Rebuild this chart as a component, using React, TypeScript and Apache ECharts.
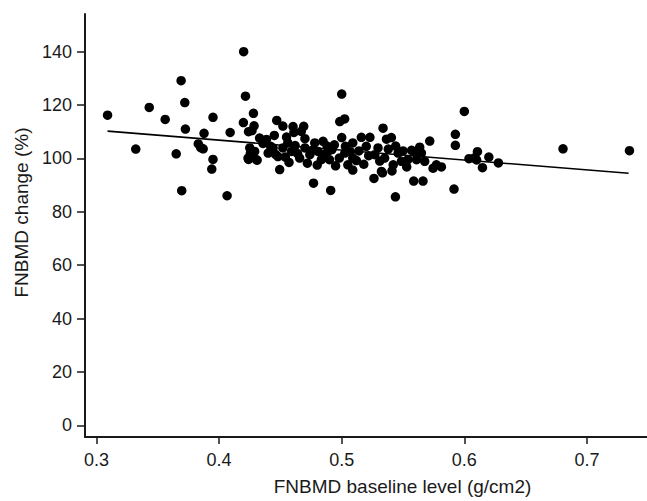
import React, { useEffect, useRef } from "react";
import * as echarts from "echarts";

const xTicks = [0.3, 0.4, 0.5, 0.6, 0.7];
const yTicks = [0, 20, 40, 60, 80, 100, 120, 140];

const baselineLevel = [
  0.309, 0.332, 0.343, 0.356, 0.365, 0.369, 0.3695, 0.372, 0.3725, 0.383, 0.385, 0.387, 0.3877, 0.394, 0.395, 0.395, 0.4065, 0.409,
  0.42, 0.4215, 0.4198, 0.424, 0.4268, 0.428, 0.4285, 0.424, 0.4255, 0.425, 0.4236, 0.4304, 0.429, 0.431, 0.433, 0.437, 0.4386, 0.4358,
  0.44, 0.444, 0.448, 0.4494, 0.447, 0.452, 0.452, 0.456, 0.459, 0.4603, 0.461, 0.4657, 0.467, 0.469, 0.47, 0.474, 0.477, 0.478,
  0.4807, 0.4834, 0.4848, 0.4888, 0.49, 0.491, 0.494, 0.498, 0.4984, 0.5, 0.5024, 0.5, 0.5025, 0.505, 0.509, 0.509, 0.509, 0.516,
  0.523, 0.52, 0.527, 0.5296, 0.5337, 0.5365, 0.5405, 0.535, 0.5324, 0.5263, 0.5332, 0.541, 0.542, 0.546, 0.5487, 0.554, 0.561,
  0.5636, 0.561, 0.5718, 0.5677, 0.5772, 0.5813, 0.5745, 0.5587, 0.5663, 0.5438,
  0.5927, 0.5927, 0.5916, 0.6, 0.6038, 0.608, 0.6107, 0.61, 0.62, 0.6148, 0.6278, 0.6805, 0.7347,
  0.442, 0.446, 0.454, 0.457, 0.462, 0.464, 0.472, 0.476, 0.48, 0.486, 0.492, 0.495, 0.503, 0.507, 0.512, 0.514, 0.518, 0.522,
  0.531, 0.538, 0.544, 0.55, 0.553, 0.557, 0.565, 0.47, 0.455, 0.445, 0.488,
];

const fnbmdChange = [
  116.2, 103.5, 119.1, 114.6, 101.7, 129.1, 87.9, 120.9, 111.0, 105.4, 104.0, 103.6, 109.4, 96.0, 99.6, 115.4, 86.0, 109.7,
  140.0, 123.3, 113.4, 110.0, 110.4, 116.9, 112.2, 99.6, 101.9, 103.9, 100.1, 99.5, 102.6, 99.3, 107.6, 106.4, 107.1, 105.6,
  102.0, 103.9, 100.7, 95.8, 114.2, 112.1, 103.9, 105.8, 102.6, 111.9, 109.7, 100.1, 110.1, 112.0, 103.9, 101.4, 90.7, 105.8,
  102.6, 99.5, 106.4, 102.6, 99.5, 88.0, 105.1, 100.1, 113.8, 124.1, 114.8, 107.8, 102.0, 97.6, 100.1, 105.8, 95.6, 107.9,
  107.9, 104.5, 101.4, 103.9, 111.3, 107.2, 107.8, 100.1, 95.1, 92.5, 94.6, 95.3, 97.6, 102.0, 98.9, 99.5, 99.5,
  104.2, 101.9, 106.5, 98.9, 97.6, 96.8, 96.3, 91.5, 91.5, 85.6,
  109.0, 104.9, 88.5, 117.6, 99.9, 100.1, 102.5, 99.4, 100.5, 96.5, 98.3, 103.6, 102.9,
  104.5, 101.5, 100.5, 98.5, 104.8, 101.8, 98.2, 103.0, 97.5, 101.5, 103.3, 97.2, 104.5, 102.5, 99.2, 102.8, 97.8, 101.0,
  99.0, 103.5, 104.6, 102.8, 96.8, 103.0, 102.0, 107.4, 108.0, 108.6, 104.6,
];

const fitX = [0.309, 0.734];
const fitY = [110.2, 94.4];

const FONT = "'Liberation Sans', Arial, Helvetica, sans-serif";
const INK = "#1a1a1a";

export default function App() {
  const ref = useRef<HTMLDivElement>(null);

  useEffect(() => {
    if (!ref.current) return;
    const chart = echarts.init(ref.current, undefined, { renderer: "svg" });
    const points = baselineLevel.map((x, i) => [x, fnbmdChange[i]]);
    const fit = fitX.map((x, i) => [x, fitY[i]]);
    chart.setOption({
      animation: false,
      backgroundColor: "#ffffff",
      grid: { left: 85, right: 0, top: 14, bottom: 64, containLabel: false },
      xAxis: {
        type: "value",
        min: 0.2906,
        max: 0.749,
        name: "FNBMD baseline level (g/cm2)",
        nameLocation: "middle",
        nameGap: 40,
        nameTextStyle: { fontFamily: FONT, fontSize: 19, color: INK, padding: [0, 0, 0, 73] },
        splitLine: { show: false },
        axisLine: { show: true, onZero: false, lineStyle: { color: INK, width: 2 } },
        axisTick: { show: true, length: 7, customValues: xTicks, lineStyle: { color: INK, width: 1.5 } },
        axisLabel: {
          customValues: xTicks,
          margin: 14,
          fontFamily: FONT,
          fontSize: 18,
          color: INK,
          formatter: (v: number) => v.toFixed(1),
        },
      },
      yAxis: {
        type: "value",
        min: -4.4,
        max: 154.1,
        name: "FNBMD change (%)",
        nameLocation: "middle",
        nameGap: 51,
        nameTextStyle: { fontFamily: FONT, fontSize: 19, color: INK, padding: [0, 0, 0, 26] },
        splitLine: { show: false },
        axisLine: { show: true, onZero: false, lineStyle: { color: INK, width: 2 } },
        axisTick: { show: true, length: 8, customValues: yTicks, lineStyle: { color: INK, width: 1.5 } },
        axisLabel: {
          customValues: yTicks,
          margin: 13,
          fontFamily: FONT,
          fontSize: 18,
          color: INK,
        },
      },
      series: [
        {
          type: "scatter",
          data: points,
          symbol: "circle",
          symbolSize: 9.5,
          itemStyle: { color: "#000000", opacity: 1 },
          silent: true,
        },
        {
          type: "line",
          data: fit,
          symbol: "none",
          lineStyle: { color: "#000000", width: 1.6 },
          silent: true,
          z: 3,
        },
      ],
    });
    return () => chart.dispose();
  }, []);

  return <div ref={ref} style={{ width: 647, height: 501, position: "absolute", left: 0, top: 0 }} />;
}
